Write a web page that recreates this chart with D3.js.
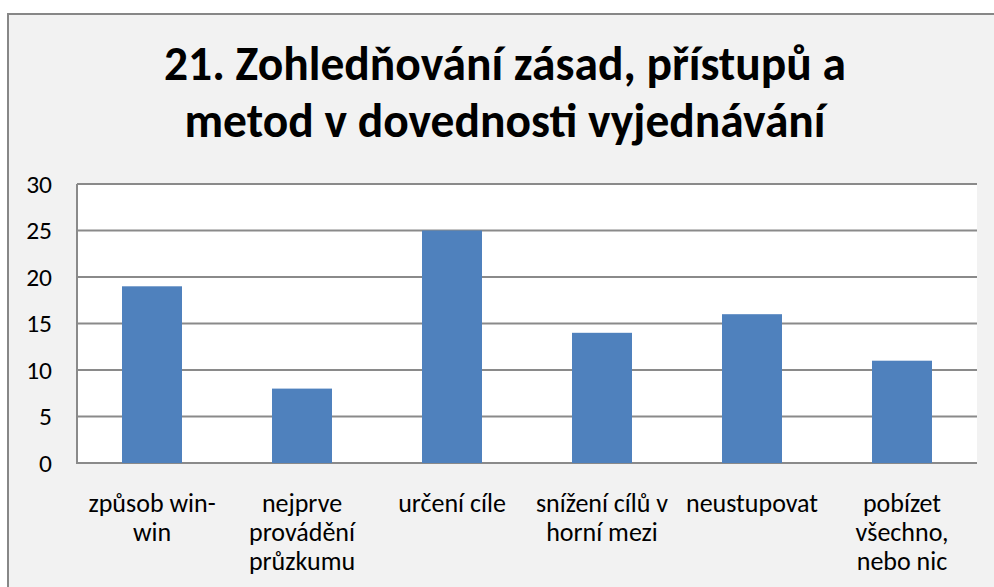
<!DOCTYPE html>
<html>
<head>
<meta charset="utf-8">
<script src="https://cdn.jsdelivr.net/npm/d3@7"></script>
<style>
  html, body { margin: 0; padding: 0; background: #fff; }
  svg { display: block; font-family: Carlito, Calibri, Lato, sans-serif; }
</style>
</head>
<body>
<div id="chart"></div>
<script>
var width = 994;
var height = 587;

// data
var titleLines = ["21. Zohledňování zásad, přístupů a", "metod v dovednosti vyjednávání"];
var categories = [
  "způsob win-\nwin",
  "nejprve\nprovádění\nprůzkumu",
  "určení cíle",
  "snížení cílů v\nhorní mezi",
  "neustupovat",
  "pobízet\nvšechno,\nnebo nic"
];
var values = [19, 8, 25, 14, 16, 11];
var yTicks = [0, 5, 10, 15, 20, 25, 30];

var plot = {left: 77, top: 184, right: 977, bottom: 463};

var svg = d3.select("#chart").append("svg")
  .attr("width", width)
  .attr("height", height);

// chart area
svg.append("rect")
  .attr("x", 8).attr("y", 14)
  .attr("width", 1000).attr("height", 600)
  .attr("fill", "#f2f2f2")
  .attr("stroke", "#878787")
  .attr("stroke-width", 2);

var title = svg.append("text")
  .attr("text-anchor", "middle")
  .attr("font-weight", "bold")
  .attr("font-size", 47.5)
  .attr("fill", "#000");
title.selectAll("tspan")
  .data(titleLines)
  .join("tspan")
    .attr("x", 505)
    .attr("y", (d, i) => 80 + i * 57)
    .text(d => d);

var x = d3.scaleBand()
  .domain(categories)
  .range([plot.left, plot.right])
  .paddingInner(0.6)
  .paddingOuter(0.3);

var y = d3.scaleLinear()
  .domain([0, 30])
  .range([plot.bottom, plot.top]);

svg.append("rect")
  .attr("x", plot.left).attr("y", plot.top)
  .attr("width", plot.right - plot.left)
  .attr("height", plot.bottom - plot.top)
  .attr("fill", "#fff");

// gridlines
svg.append("g")
  .selectAll("line")
  .data(yTicks)
  .join("line")
    .attr("x1", plot.left)
    .attr("x2", plot.right)
    .attr("y1", d => y(d))
    .attr("y2", d => y(d))
    .attr("stroke", "#8a8a8a")
    .attr("stroke-width", 2);

svg.append("line")
  .attr("x1", plot.left).attr("x2", plot.left)
  .attr("y1", plot.top).attr("y2", plot.bottom + 1)
  .attr("stroke", "#8a8a8a")
  .attr("stroke-width", 2);

// bars
svg.append("g")
  .selectAll("rect")
  .data(values)
  .join("rect")
    .attr("x", (d, i) => x(categories[i]))
    .attr("y", d => y(d))
    .attr("width", x.bandwidth())
    .attr("height", d => y(0) - y(d))
    .attr("fill", "#4f81bd");

// y axis labels
var yAxis = d3.axisLeft(y).tickValues(yTicks).tickSize(0).tickPadding(25);
svg.append("g")
  .attr("transform", `translate(${plot.left},0)`)
  .call(yAxis)
  .call(g => g.select(".domain").remove())
  .call(g => g.selectAll("text")
    .attr("font-family", "Carlito, Calibri, Lato, sans-serif")
    .attr("font-size", 25.5)
    .attr("fill", "#000"));

// x axis labels (wrapped)
var xl = svg.append("g")
  .selectAll("text")
  .data(categories)
  .join("text")
    .attr("text-anchor", "middle")
    .attr("font-size", 26)
    .attr("fill", "#000");
xl.selectAll("tspan")
  .data(d => d.split("\n").map(t => ({t: t, c: d})))
  .join("tspan")
    .attr("x", d => x(d.c) + x.bandwidth() / 2)
    .attr("y", (d, i) => 512 + i * 29)
    .text(d => d.t);
</script>
</body>
</html>
